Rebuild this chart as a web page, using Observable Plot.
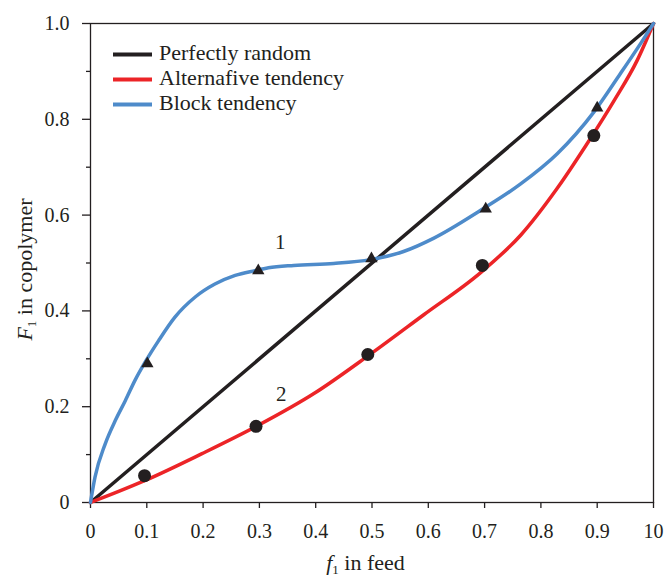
<!DOCTYPE html>
<html><head><meta charset="utf-8">
<script src="https://cdn.jsdelivr.net/npm/d3@7"></script>
<script src="https://cdn.jsdelivr.net/npm/@observablehq/plot@0.6"></script>
<style>body{margin:0;background:#fff} #chart{width:667px;height:576px}</style>
</head><body><div id="chart"></div>
<script>
// ---- data ----
const randomX = [0, 1];
const randomY = [0, 1];
const blueX = [0, 0.008, 0.026, 0.044, 0.062, 0.079, 0.097, 0.121, 0.150, 0.186, 0.221, 0.257, 0.292, 0.316, 0.361, 0.432, 0.497, 0.556, 0.610, 0.693, 0.764, 0.829, 0.894, 0.941, 0.977, 1.0];
const blueY = [0, 0.053, 0.122, 0.171, 0.213, 0.255, 0.293, 0.338, 0.387, 0.429, 0.456, 0.474, 0.484, 0.490, 0.495, 0.499, 0.507, 0.524, 0.552, 0.610, 0.665, 0.728, 0.815, 0.895, 0.958, 1.0];
const redX = [0, 0.05, 0.097, 0.198, 0.293, 0.399, 0.494, 0.592, 0.693, 0.764, 0.829, 0.882, 0.930, 0.971, 1.0];
const redY = [0, 0.023, 0.046, 0.102, 0.158, 0.229, 0.307, 0.392, 0.480, 0.558, 0.656, 0.749, 0.839, 0.923, 1.0];
const triangleX = [0.101, 0.298, 0.499, 0.702, 0.900];
const triangleY = [0.290, 0.484, 0.509, 0.613, 0.824];
const circleX = [0.096, 0.294, 0.4925, 0.696, 0.894];
const circleY = [0.056, 0.159, 0.309, 0.495, 0.766];
const xTicks = [0, 0.1, 0.2, 0.3, 0.4, 0.5, 0.6, 0.7, 0.8, 0.9, 1];
const xTickLabels = ["0", "0.1", "0.2", "0.3", "0.4", "0.5", "0.6", "0.7", "0.8", "0.9", "10"];
const yMajor = [0, 0.2, 0.4, 0.6, 0.8, 1];
const yMajorLabels = ["0", "0.2", "0.4", "0.6", "0.8", "1.0"];
const yMinor = [0.1, 0.3, 0.5, 0.7, 0.9];
const legendLabels = ["Perfectly random", "Alternafive tendency", "Block tendency"];
const legendColors = ["#231f20", "#ec2427", "#4e8bca"];
const curveLabels = ["1", "2"];
const curveLabelX = [0.337, 0.339];
const curveLabelY = [0.543, 0.225];

// ---- build ----
const ink = "#231f20";
const font = "'Liberation Serif', 'DejaVu Serif', serif";
const toRows = (xs, ys) => xs.map((x, i) => ({x, y: ys[i]}));
const randomData = toRows(randomX, randomY);
const blueData = toRows(blueX, blueY);
const redData = toRows(redX, redY);
const triData = toRows(triangleX, triangleY);
const cirData = toRows(circleX, circleY);
const labData = curveLabels.map((t, i) => ({t, x: curveLabelX[i], y: curveLabelY[i]}));
const xFmt = new Map(xTicks.map((v, i) => [Math.round(v * 10), xTickLabels[i]]));
const yFmt = new Map(yMajor.map((v, i) => [Math.round(v * 10), yMajorLabels[i]]));

const W = 667, H = 576, mL = 90, mR = 14, mT = 23, mB = 74;
const plot = Plot.plot({
  width: W, height: H,
  marginLeft: mL, marginRight: mR, marginTop: mT, marginBottom: mB,
  style: {fontFamily: font, fontSize: "20px", color: ink, background: "#fff"},
  x: {domain: [0, 1]},
  y: {domain: [0, 1]},
  marks: [
    Plot.axisX({ticks: xTicks, tickFormat: d => xFmt.get(Math.round(d * 10)), tickSize: 6, tickPadding: 15, label: null, stroke: ink, strokeWidth: 1.3, fill: ink}),
    Plot.axisY({ticks: yMajor, tickFormat: d => yFmt.get(Math.round(d * 10)), tickSize: 8, tickPadding: 13, label: null, stroke: ink, strokeWidth: 1.3, fill: ink}),
    Plot.axisY({ticks: yMinor, tickFormat: () => "", tickSize: 4, label: null, stroke: ink, strokeWidth: 1.3}),
    Plot.frame({stroke: ink, strokeWidth: 1.3}),
    Plot.line(randomData, {x: "x", y: "y", stroke: legendColors[0], strokeWidth: 3.5}),
    Plot.line(redData, {x: "x", y: "y", stroke: legendColors[1], strokeWidth: 3.5, curve: "monotone-x"}),
    Plot.line(blueData, {x: "x", y: "y", stroke: legendColors[2], strokeWidth: 3.5, curve: "monotone-x"}),
    Plot.dot(triData, {x: "x", y: "y", symbol: "triangle", r: 4.6, fill: ink, stroke: "none"}),
    Plot.dot(cirData, {x: "x", y: "y", r: 6.5, fill: ink, stroke: "none"}),
    Plot.text(labData, {x: "x", y: "y", text: "t", fontSize: 21, fill: ink})
  ]
});
document.getElementById("chart").append(plot);

// ---- legend and axis titles (with subscripts) ----
const svg = d3.select(plot);
const leg = svg.append("g").style("font-family", font).style("font-size", "22px").attr("fill", ink);
legendLabels.forEach((lab, i) => {
  const yy = 54.5 + i * 25;
  leg.append("line").attr("x1", mL + 23).attr("x2", mL + 62).attr("y1", yy).attr("y2", yy)
    .attr("stroke", legendColors[i]).attr("stroke-width", 4);
  leg.append("text").attr("text-anchor", "start").attr("x", mL + 69).attr("y", yy + 5).text(lab);
});

const xt = svg.append("text").style("font-family", font).style("font-size", "22px").attr("fill", ink)
  .attr("text-anchor", "middle").attr("x", mL + (W - mL - mR) / 2 - 6).attr("y", 570);
xt.append("tspan").attr("font-style", "italic").text("f");
xt.append("tspan").style("font-size", "13px").attr("dy", 4).text("1");
xt.append("tspan").attr("dy", -4).text(" in feed");

const yt = svg.append("text").style("font-family", font).style("font-size", "22px").attr("fill", ink)
  .attr("text-anchor", "middle").attr("transform", `translate(32,${mT + (H - mT - mB) / 2 + 7}) rotate(-90)`);
yt.append("tspan").attr("font-style", "italic").text("F");
yt.append("tspan").style("font-size", "13px").attr("dy", 4).text("1");
yt.append("tspan").attr("dy", -4).text(" in copolymer");
</script>
</body></html>
